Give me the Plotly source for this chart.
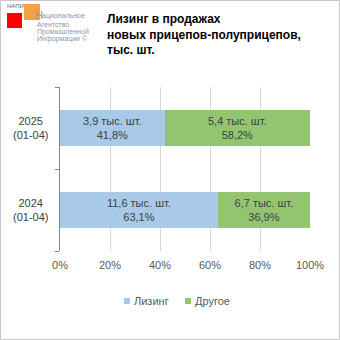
import plotly.graph_objects as go

# Periods (bottom to top) and shares of trailer sales
periods = ["2024 (01-04)", "2025 (01-04)"]
leasing_pct = [63.1, 41.8]
other_pct = [36.9, 58.2]
leasing_k = [11.6, 3.9]
other_k = [6.7, 5.4]
series_names = ["Лизинг", "Другое"]
x_ticks = [0, 20, 40, 60, 80, 100]
title_lines = ["Лизинг в продажах", "новых прицепов-полуприцепов,", "тыс. шт."]
logo_lines = ["ациональное", "Агентство", "Промышленной", "Информации ©"]

W = H = 340
L, R, T, B = 60, 30, 87, 89
PW, PH = W - L - R, H - T - B

def px(x):
    return (x - L) / PW

def py(y):
    return (H - B - y) / PH

def num(v):
    return f"{v:.1f}".replace(".", ",")

def label(k, p):
    return f"{num(k)} тыс. шт.<br>{num(p)}%"

blue = "#a9c9e9"
green = "#93c571"
colors = [blue, green]
FAM = "Liberation Sans, Arial, sans-serif"
text_font = dict(family=FAM, size=11, color="#404040")

fig = go.Figure()
for name, pct, k, color in [
    (series_names[0], leasing_pct, leasing_k, blue),
    (series_names[1], other_pct, other_k, green),
]:
    fig.add_trace(go.Bar(
        y=periods, x=pct, orientation="h", name=name,
        marker=dict(color=color, line=dict(width=0)),
        text=[label(a, b) for a, b in zip(k, pct)],
        textposition="inside", insidetextanchor="middle", textangle=0,
        constraintext="none", insidetextfont=text_font,
        showlegend=False, hoverinfo="skip",
    ))

fig.update_layout(
    width=W, height=H, barmode="stack", bargap=0.56, showlegend=False,
    margin=dict(l=L, r=R, t=T, b=B, pad=0),
    paper_bgcolor="white", plot_bgcolor="white",
    font=dict(family=FAM, size=11, color="#595959"),
    xaxis=dict(range=[0, 100], tickvals=x_ticks, ticktext=[f"{v}%" for v in x_ticks],
               showgrid=True, gridcolor="#d9d9d9", gridwidth=1, zeroline=False,
               showline=False, ticks="", ticklabelstandoff=6, fixedrange=True),
    yaxis=dict(categoryorder="array", categoryarray=periods, showticklabels=False,
               showline=True, linecolor="#868686", linewidth=1,
               ticks="outside", tickson="boundaries", ticklen=4, tickcolor="#868686",
               showgrid=False, zeroline=False, fixedrange=True),
)

# category labels, centred lines
for p in periods:
    fig.add_annotation(xref="paper", yref="y", x=px(30), y=p, text=p.replace(" ", "<br>"),
                       showarrow=False, xanchor="center", yanchor="middle", align="center",
                       font=dict(family=FAM, size=11, color="#404040"))

# legend: small squares with names
legend_x = [124, 185]
for name, color, lx in zip(series_names, colors, legend_x):
    fig.add_shape(type="rect", xref="paper", yref="paper", x0=px(lx), x1=px(lx + 6),
                  y0=py(304), y1=py(298), fillcolor=color, line=dict(width=0))
    fig.add_annotation(xref="paper", yref="paper", x=px(lx + 8), y=py(301), text=name,
                       showarrow=False, xanchor="left", yanchor="middle",
                       font=dict(family=FAM, size=11, color="#595959"))

# title
for i, line in enumerate(title_lines):
    fig.add_annotation(xref="paper", yref="paper", x=px(105), y=py(19 + i * 15.5), text=f"<b>{line}</b>",
                       showarrow=False, xanchor="left", yanchor="middle",
                       font=dict(family=FAM, size=12, color="#000000"))

# logo
fig.add_shape(type="rect", xref="paper", yref="paper", x0=px(7), x1=px(22), y0=py(28), y1=py(13),
              fillcolor="#ff0000", line=dict(width=0))
fig.add_shape(type="rect", xref="paper", yref="paper", x0=px(24), x1=px(40), y0=py(20), y1=py(4),
              fillcolor="#f4a045", line=dict(width=0))
fig.add_annotation(xref="paper", yref="paper", x=px(5), y=py(6), text="НАПИ", showarrow=False,
                   xanchor="left", yanchor="middle",
                   font=dict(family=FAM, size=6, color="#5a6b8c"))
fig.add_annotation(xref="paper", yref="paper", x=px(33), y=py(15), text="Н", showarrow=False,
                   xanchor="left", yanchor="middle",
                   font=dict(family=FAM, size=11, color="#8a98ad"))
for i, line in enumerate(logo_lines):
    fig.add_annotation(xref="paper", yref="paper", x=px(40 if i == 0 else 35), y=py(16.5 + i * 7.6),
                       text=line, showarrow=False, xanchor="left", yanchor="middle",
                       font=dict(family=FAM, size=7, color="#8a98ad"))

# outer frame
fig.add_shape(type="rect", xref="paper", yref="paper", x0=px(0.5), x1=px(339.5), y0=py(339.5), y1=py(0.5),
              line=dict(color="#c8c8c8", width=1), fillcolor="rgba(0,0,0,0)", layer="above")

fig.write_html("out.html")
